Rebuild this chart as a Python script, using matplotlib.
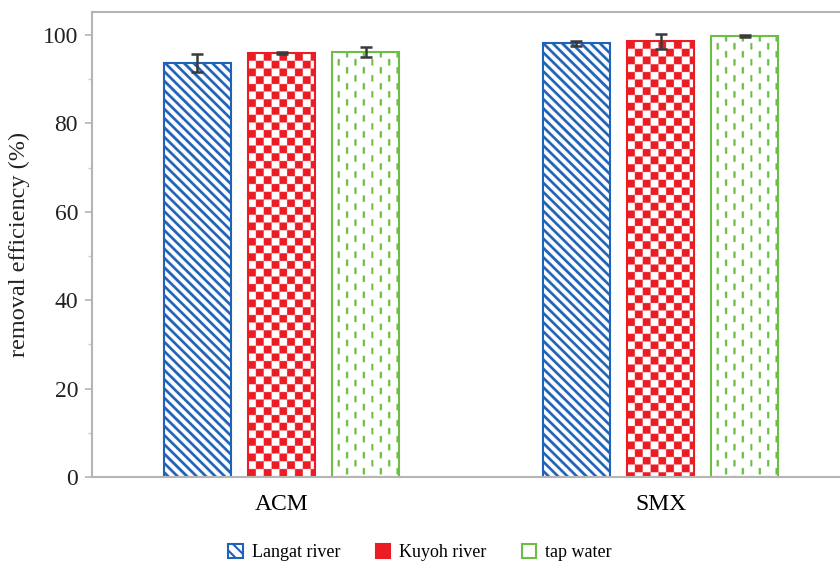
import numpy as np
import matplotlib.pyplot as plt
from matplotlib.colors import to_rgb
from matplotlib.patches import Patch

plt.rcParams['font.family'] = ['Liberation Serif', 'DejaVu Serif']
plt.rcParams['hatch.linewidth'] = 1.5

compounds = ['ACM', 'SMX']
sources = ['Langat river', 'Kuyoh river', 'tap water']
langat = [93.7, 98.1]
langat_err = [2.0, 0.5]
kuyoh = [95.9, 98.6]
kuyoh_err = [0.3, 1.7]
tap = [96.2, 99.8]
tap_err = [1.1, 0.3]

colors = ['#1f62b8', '#ec1c24', '#6cbe45']
patterns = ['stripe', 'checker', 'dash']
values = [langat, kuyoh, tap]
errors = [langat_err, kuyoh_err, tap_err]

SS = 4  # texture supersampling


def texture(kind, w, h, color):
    # RGBA fill pattern measured in screen pixels, transparent background
    yy, xx = np.mgrid[0:h * SS, 0:w * SS].astype(float) / SS
    if kind == 'stripe':
        p = 9.3
        d = (xx - yy) % p
        mask = np.minimum(d, p - d) < 1.9
    elif kind == 'checker':
        s = 7.7
        mask = ((np.floor(xx / s) + np.floor(yy / s)) % 2) == 0
    else:
        sx = 8.3
        col = np.floor((xx + 3) / sx)
        inx = ((xx + 3) % sx) < 2.2
        off = (col % 2) * 8.0
        mask = inx & (((yy + off) % 16.0) < 6.5)
    img = np.zeros(mask.shape + (4,))
    img[..., :3] = to_rgb(color)
    img[..., 3] = mask.astype(float)
    return img


fig = plt.figure(figsize=(8.4, 5.61), dpi=100)
ax = fig.add_axes([92 / 840, 84 / 561, 758 / 840, 465 / 561])
ax.set_xlim(-0.5, 1.5)
ax.set_ylim(0, 105.2)

x = np.arange(len(compounds))
width = 0.177
step = 0.222

for i, (vals, errs, c) in enumerate(zip(values, errors, colors)):
    pos = x + (i - 1) * step
    bars = ax.bar(pos, vals, width, facecolor='white', edgecolor='none',
                  zorder=1)
    for b in bars:
        x0, y0 = ax.transData.transform((b.get_x(), 0))
        x1, y1 = ax.transData.transform((b.get_x() + b.get_width(),
                                         b.get_height()))
        img = texture(patterns[i], int(round(x1 - x0)), int(round(y1 - y0)), c)
        im = ax.imshow(img, extent=(b.get_x(), b.get_x() + b.get_width(),
                                    0, b.get_height()),
                       aspect='auto', interpolation='antialiased', zorder=1.5)
        im.set_clip_path(b)
    ax.bar(pos, vals, width, fill=False, edgecolor=c, linewidth=1.5, zorder=2)
    ax.errorbar(pos, vals, yerr=errs, fmt='none', ecolor='#3a3a3a',
                elinewidth=1.8, capsize=4, capthick=1.8, zorder=3)

ax.set_xlim(-0.5, 1.5)
ax.set_ylim(0, 105.2)
ax.set_xticks(x)
ax.set_xticklabels(compounds, fontsize=17)
ax.tick_params(axis='x', length=0, pad=12)
ax.set_yticks(np.arange(0, 101, 20))
ax.set_yticks(np.arange(10, 100, 20), minor=True)
ax.tick_params(axis='y', labelsize=17, colors='#b5b5b5', labelcolor='#222222',
               length=5, width=1.2, pad=5)
ax.tick_params(axis='y', which='minor', length=3, width=1, colors='#cccccc')
ax.set_ylabel('removal efficiency (%)', fontsize=17.5, color='#222222',
              labelpad=9)

for side in ['left', 'top', 'bottom']:
    ax.spines[side].set_color('#b5b5b5')
    ax.spines[side].set_linewidth(1.5)
ax.spines['right'].set_visible(False)

handles = [
    Patch(facecolor='white', edgecolor=colors[0], hatch='\\\\\\', linewidth=1.5),
    Patch(facecolor=colors[1], edgecolor=colors[1], linewidth=1.5),
    Patch(facecolor='white', edgecolor=colors[2], linewidth=1.5),
]
fig.legend(handles, sources, loc='lower center', bbox_to_anchor=(0.5, -0.029),
           ncol=3, frameon=False, fontsize=13, handlelength=0.8,
           handleheight=0.8, handletextpad=0.5, columnspacing=1.95)

fig.savefig('out.png', dpi=100)
